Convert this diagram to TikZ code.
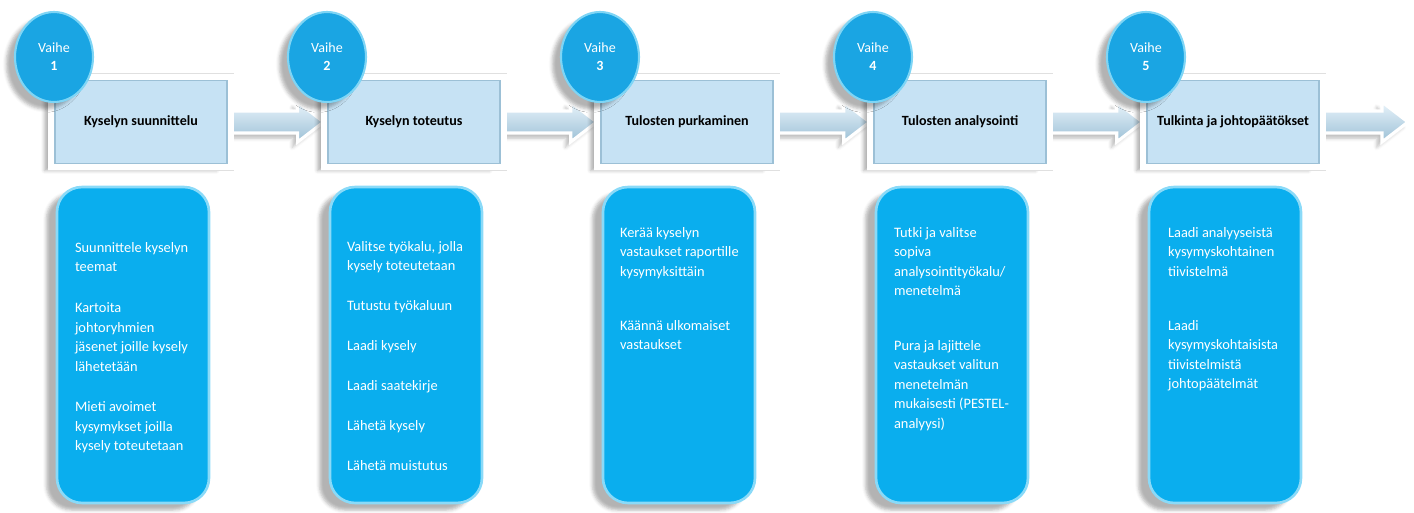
\documentclass[tikz,border=0pt]{standalone}
\usepackage{fontspec}
\setmainfont{Carlito}
\usetikzlibrary{calc,shapes.geometric,shadows.blur}
\definecolor{headblue}{HTML}{C6E2F4}
\definecolor{headline}{HTML}{9CC0D6}
\definecolor{vaiheblue}{HTML}{1AA5E3}
\definecolor{vaiherim}{HTML}{7FD5F5}
\definecolor{boxblue}{HTML}{0AAEEE}
\definecolor{boxrim}{HTML}{8ADAF8}
\begin{document}
\begin{tikzpicture}[x=0.02cm,y=-0.02cm,
  stagespot/.style={minimum width=3.44cm,minimum height=1.66cm},
  stagebox/.style={stagespot,fill=headblue,draw=headline,line width=0.8pt,
    font=\fontsize{8}{10}\selectfont\bfseries,
    preaction={blur shadow={shadow xshift=-6pt,shadow yshift=-4pt,shadow opacity=30}},
    preaction={draw=black!12,line width=8.5pt},
    preaction={draw=white,line width=7.5pt}},
  vaihe/.style={ellipse,fill=vaiheblue,draw=vaiherim,
    line width=1.2pt,minimum width=1.56cm,minimum height=1.8cm,inner sep=0pt,text=white,
    align=center,font=\fontsize{8}{10.2}\selectfont,
    blur shadow={shadow xshift=-5pt,shadow yshift=-4pt,shadow opacity=30}},
  taskbox/.style={draw=boxrim,line width=1.5pt,fill=boxblue,rounded corners=0.5cm,
    minimum width=3.04cm,minimum height=6.32cm,
    blur shadow={shadow xshift=-6pt,shadow yshift=-4pt,shadow opacity=30}},
  tasktext/.style={anchor=north west,inner sep=0pt,text=white,align=left,
    font=\fontsize{8.2}{11.1}\selectfont},
  fatarrow/.style={draw=white,line width=1.8pt,top color=headblue!40!white,bottom color=headline,
    blur shadow={shadow xshift=-3pt,shadow yshift=-3pt,shadow opacity=25}}]
\useasboundingbox (0,0) rectangle (1414,513);
\coordinate (end) at (1412,122);
\foreach \x/\n in {55/1,328/2,601/3,874/4,1147/5}
  \node[stagespot] (h\n) at (\x+86,122) {};
\foreach \a/\b in {h1/h2,h2/h3,h3/h4,h4/h5,h5/end}
  \filldraw[fatarrow] ($(\a.east)+(4,-11)$) -- ($(\b.west)+(-30,-11)$) -- ($(\b.west)+(-30,-20)$) -- ($(\b.west)+(-4,0)$)
    -- ($(\b.west)+(-30,20)$) -- ($(\b.west)+(-30,11)$) -- ($(\a.east)+(4,11)$) -- cycle;
\foreach \n/\t in {1/Kyselyn suunnittelu,2/Kyselyn toteutus,3/Tulosten purkaminen,4/Tulosten analysointi,5/Tulkinta ja johtopäätökset}
  \node[stagebox] at (h\n) {\t};
\foreach \x/\n in {55/1,328/2,601/3,874/4,1147/5}
  \node[vaihe] (v\n) at (\x-1,57) {Vaihe\\\textbf{\n}};
\foreach \x/\n in {55/1,328/2,601/3,874/4,1147/5}
  \node[taskbox] (b\n) at (\x+78,345) {};
\node[tasktext] (t1) at ($(b1.north west)+(19,56)$) {Suunnittele kyselyn\\teemat\\[12.2pt]Kartoita\\johtoryhmien\\jäsenet joille kysely\\lähetetään\\[12.2pt]Mieti avoimet\\kysymykset joilla\\kysely toteutetaan};
\node[tasktext] (t2) at ($(b2.north west)+(18,55)$) {Valitse työkalu, jolla\\kysely toteutetaan\\[11.7pt]Tutustu työkaluun\\[11.7pt]Laadi kysely\\[11.7pt]Laadi saatekirje\\[11.7pt]Lähetä kysely\\[11.7pt]Lähetä muistutus};
\node[tasktext] (t3) at ($(b3.north west)+(18,41)$) {Kerää kyselyn\\vastaukset raportille\\kysymyksittäin\\[19.6pt]Käännä ulkomaiset\\vastaukset};
\node[tasktext] (t4) at ($(b4.north west)+(19,41)$) {Tutki ja valitse\\sopiva\\analysointityökalu/\\menetelmä\\[20pt]Pura ja lajittele\\vastaukset valitun\\menetelmän\\mukaisesti (PESTEL-\\analyysi)};
\node[tasktext] (t5) at ($(b5.north west)+(20,41)$) {Laadi analyyseistä\\kysymyskohtainen\\tiivistelmä\\[19.6pt]Laadi\\kysymyskohtaisista\\tiivistelmistä\\johtopäätelmät};
\end{tikzpicture}
\end{document}
